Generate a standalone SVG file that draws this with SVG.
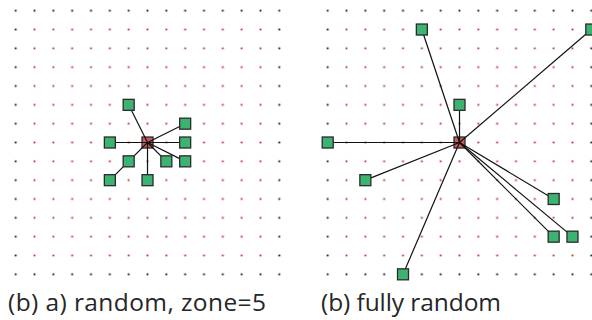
<svg xmlns="http://www.w3.org/2000/svg" width="592" height="320" viewBox="0 0 592 320">
  <style>
    .edge { stroke: #111; stroke-width: 1.2; fill: none; }
    .leaf { fill: #3cb371; stroke: #2b2b2b; stroke-width: 1.3; }
    .hub { fill: #cd5c5c; stroke: #2b2b2b; stroke-width: 1.3; }
    .cap { font-family: "Open Sans", "DejaVu Sans", sans-serif; font-size: 24.5px; fill: #262626; }
  </style>
  <defs>
    <pattern id="redDots" patternUnits="userSpaceOnUse" x="0" y="0" width="18.83" height="18.83">
      <rect x="8.5" y="8.5" width="1.8" height="1.8" fill="#b82e2e"/>
    </pattern>
    <pattern id="blackDots" patternUnits="userSpaceOnUse" x="0" y="0" width="18.83" height="18.83">
      <rect x="8.5" y="8.5" width="1.8" height="1.8" fill="#111"/>
    </pattern>
  </defs>

  <!-- Left grid -->
  <g id="grid-left" transform="translate(6.285,1.285)">
    <rect x="18.83" y="18.83" width="244.79" height="244.79" fill="url(#redDots)"/>
    <rect x="0" y="0" width="282.45" height="18.83" fill="url(#blackDots)"/>
    <rect x="0" y="263.62" width="282.45" height="18.83" fill="url(#blackDots)"/>
    <rect x="0" y="18.83" width="18.83" height="244.79" fill="url(#blackDots)"/>
    <rect x="263.62" y="18.83" width="18.83" height="244.79" fill="url(#blackDots)"/>
  </g>

  <!-- Right grid -->
  <g id="grid-right" transform="translate(318.285,1.285)">
    <rect x="18.83" y="18.83" width="244.79" height="244.79" fill="url(#redDots)"/>
    <rect x="0" y="0" width="282.45" height="18.83" fill="url(#blackDots)"/>
    <rect x="0" y="263.62" width="282.45" height="18.83" fill="url(#blackDots)"/>
    <rect x="0" y="18.83" width="18.83" height="244.79" fill="url(#blackDots)"/>
    <rect x="263.62" y="18.83" width="18.83" height="244.79" fill="url(#blackDots)"/>
  </g>

  <!-- hubs -->
  <g id="hub-left"><rect class="hub" x="142.01" y="137.01" width="11" height="11"/></g>
  <g id="hub-right"><rect class="hub" x="454.01" y="137.01" width="11" height="11"/></g>

  <g id="connectors">
    <!-- left -->
    <line class="edge" x1="147.51" y1="142.51" x2="128.68" y2="104.85"/>
    <line class="edge" x1="147.51" y1="142.51" x2="185.17" y2="123.68"/>
    <line class="edge" x1="147.51" y1="142.51" x2="109.85" y2="142.51"/>
    <line class="edge" x1="147.51" y1="142.51" x2="185.17" y2="142.51"/>
    <line class="edge" x1="147.51" y1="142.51" x2="128.68" y2="161.34"/>
    <line class="edge" x1="147.51" y1="142.51" x2="166.34" y2="161.34"/>
    <line class="edge" x1="147.51" y1="142.51" x2="185.17" y2="161.34"/>
    <line class="edge" x1="147.51" y1="142.51" x2="147.51" y2="180.17"/>
    <line class="edge" x1="128.68" y1="161.34" x2="109.85" y2="180.17"/>
    <!-- right -->
    <line class="edge" x1="459.51" y1="142.51" x2="421.85" y2="29.53"/>
    <line class="edge" x1="459.51" y1="142.51" x2="591.32" y2="29.53"/>
    <line class="edge" x1="459.51" y1="142.51" x2="459.51" y2="104.85"/>
    <line class="edge" x1="459.51" y1="142.51" x2="327.7" y2="142.51"/>
    <line class="edge" x1="459.51" y1="142.51" x2="365.36" y2="180.17"/>
    <line class="edge" x1="459.51" y1="142.51" x2="553.66" y2="199"/>
    <line class="edge" x1="459.51" y1="142.51" x2="553.66" y2="236.66"/>
    <line class="edge" x1="459.51" y1="142.51" x2="572.49" y2="236.66"/>
    <line class="edge" x1="459.51" y1="142.51" x2="403.02" y2="274.32"/>
  </g>

  <!-- left leaves -->
  <g id="L1"><rect class="leaf" x="123.18" y="99.35" width="11" height="11"/></g>
  <g id="L2"><rect class="leaf" x="179.67" y="118.18" width="11" height="11"/></g>
  <g id="L3"><rect class="leaf" x="104.35" y="137.01" width="11" height="11"/></g>
  <g id="L4"><rect class="leaf" x="179.67" y="137.01" width="11" height="11"/></g>
  <g id="L5"><rect class="leaf" x="123.18" y="155.84" width="11" height="11"/></g>
  <g id="L6"><rect class="leaf" x="160.84" y="155.84" width="11" height="11"/></g>
  <g id="L7"><rect class="leaf" x="179.67" y="155.84" width="11" height="11"/></g>
  <g id="L8"><rect class="leaf" x="104.35" y="174.67" width="11" height="11"/></g>
  <g id="L9"><rect class="leaf" x="142.01" y="174.67" width="11" height="11"/></g>

  <!-- right leaves -->
  <g id="R1"><rect class="leaf" x="416.35" y="24.03" width="11" height="11"/></g>
  <g id="R2"><rect class="leaf" x="585.82" y="24.03" width="11" height="11"/></g>
  <g id="R3"><rect class="leaf" x="454.01" y="99.35" width="11" height="11"/></g>
  <g id="R4"><rect class="leaf" x="322.2" y="137.01" width="11" height="11"/></g>
  <g id="R5"><rect class="leaf" x="359.86" y="174.67" width="11" height="11"/></g>
  <g id="R6"><rect class="leaf" x="548.16" y="193.5" width="11" height="11"/></g>
  <g id="R7"><rect class="leaf" x="548.16" y="231.16" width="11" height="11"/></g>
  <g id="R8"><rect class="leaf" x="566.99" y="231.16" width="11" height="11"/></g>
  <g id="R9"><rect class="leaf" x="397.52" y="268.82" width="11" height="11"/></g>

  <text class="cap" x="8" y="311" textLength="258" lengthAdjust="spacing">(b) a) random, zone=5</text>
  <text class="cap" x="321" y="311" textLength="180" lengthAdjust="spacing">(b) fully random</text>
</svg>
